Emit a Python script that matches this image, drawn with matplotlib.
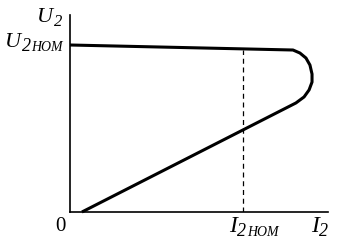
import matplotlib
matplotlib.use("Agg")
import matplotlib.pyplot as plt

plt.rcParams['font.family'] = ['Liberation Serif', 'DejaVu Serif']

# External characteristic U2(I2), relative units (I2nom = 1, U2nom = 1)
curve_i = [0.0, 1.289, 1.329, 1.364, 1.387, 1.399, 1.399, 1.382, 1.353, 1.306, 1.272, 0.069]
curve_u = [1.0, 0.970, 0.952, 0.922, 0.880, 0.826, 0.778, 0.731, 0.689, 0.653, 0.635, 0.0]
i_nom = 1.0
u_at_inom = 0.970

W, H = 337, 245
fig = plt.figure(figsize=(W / 100, H / 100), dpi=100)
ax_l, ax_r, ax_t, ax_b = 70, 328, 15, 212
ax = fig.add_axes([ax_l / W, (H - ax_b) / H, (ax_r - ax_l) / W, (ax_b - ax_t) / H])

xmax = (ax_r - ax_l) / 173.0
ymax = (ax_b - ax_t) / 167.0
ax.set_xlim(0, xmax)
ax.set_ylim(0, ymax)

ax.plot(curve_i, curve_u, color='black', lw=2.2, solid_joinstyle='round',
        solid_capstyle='butt', clip_on=False)
ax.plot([i_nom, i_nom], [0, u_at_inom], color='black', lw=0.9, dashes=(4, 3))

for s in ['top', 'right']:
    ax.spines[s].set_visible(False)
for s in ['left', 'bottom']:
    ax.spines[s].set_linewidth(1.2)
ax.set_xticks([])
ax.set_yticks([])

renderer = fig.canvas.get_renderer()


def label(x_px, base_px, pieces):
    """Italic pieces (text, fontsize, baseline drop px) laid out left to right."""
    x = x_px
    for txt, fs, drop in pieces:
        t = fig.text(x / W, 1 - (base_px + drop) / H, txt, fontsize=fs, style='italic',
                     ha='left', va='baseline')
        ext = t.get_window_extent(renderer)
        x = ext.x1 + 0.5


label(37, 22, [('U', 16, 0), ('2', 12, 4)])
label(5, 47, [('U', 16, 0), ('2', 13, 4), ('НОМ', 10, 4)])
label(229, 232, [('I', 17, 0), ('2', 13, 4), ('НОМ', 10, 4)])
label(311, 232, [('I', 17, 0), ('2', 13, 4)])
fig.text(55 / W, 1 - 231 / H, '0', fontsize=15, ha='left', va='baseline')

fig.savefig('out.png', dpi=100)
